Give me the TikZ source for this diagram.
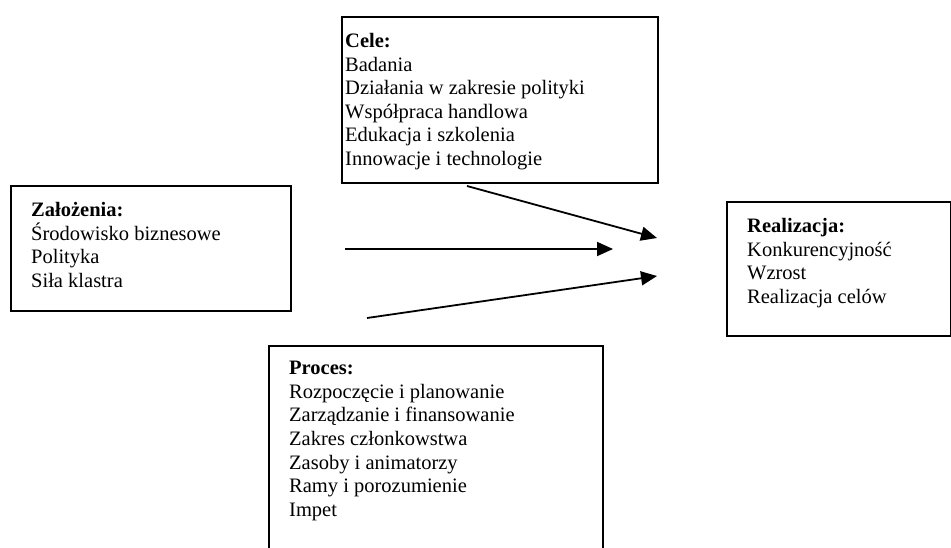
\documentclass[tikz,border=0pt]{standalone}
\usepackage{fontspec}
\setmainfont{Liberation Serif}
\usetikzlibrary{positioning,arrows.meta}
\begin{document}
\begin{tikzpicture}[x=1pt,y=-1pt,
        ramka/.style={draw,line width=2pt,inner sep=0pt,anchor=north west},
        tekst/.style={align=left,inner sep=0pt,font=\fontsize{20.5}{23.6}\selectfont},
        strzalka/.style={line width=1.8pt,-{Triangle[length=16pt,width=14pt]}}]
        \clip (0,0) rectangle (951,547);
        \useasboundingbox (0,0) rectangle (951,547);
        
        %Zalozenia
        \node[ramka,minimum width=280pt,minimum height=125pt] (zal) at (10,185) {};
        \node[tekst,below right=17pt and 21pt of zal.north west] (zaltxt)
            {\textbf{Założenia:}\\Środowisko biznesowe\\Polityka\\Siła klastra};
        
        %Cele
        \node[ramka,minimum width=316pt,minimum height=166pt] (cele) at (341,16) {};
        \node[tekst,below right=17pt and 4pt of cele.north west] (celetxt)
            {\textbf{Cele:}\\Badania\\Działania w zakresie polityki\\Współpraca handlowa\\Edukacja i szkolenia\\Innowacje i technologie};
        
        %Realizacja
        \node[ramka,minimum width=224pt,minimum height=134pt] (real) at (726,201) {};
        \node[tekst,below right=17pt and 21pt of real.north west] (realtxt)
            {\textbf{Realizacja:}\\Konkurencyjność\\Wzrost\\Realizacja celów};
        
        %Proces
        \node[ramka,minimum width=334pt,minimum height=215pt] (proc) at (268,345) {};
        \node[tekst,below right=16pt and 21pt of proc.north west] (proctxt)
            {\textbf{Proces:}\\Rozpoczęcie i planowanie\\Zarządzanie i finansowanie\\Zakres członkowstwa\\Zasoby i animatorzy\\Ramy i porozumienie\\Impet};
        
        %Strzalki
        \coordinate (s1) at (467,186);
        \coordinate (k1) at (657,238);
        \coordinate (s2) at (345,249);
        \coordinate (k2) at (613,249);
        \coordinate (s3) at (367,318);
        \coordinate (k3) at (657,276);
        \draw[strzalka] (s1) -- (k1);
        \draw[strzalka] (s2) -- (k2);
        \draw[strzalka] (s3) -- (k3);
        
    \end{tikzpicture}
\end{document}
